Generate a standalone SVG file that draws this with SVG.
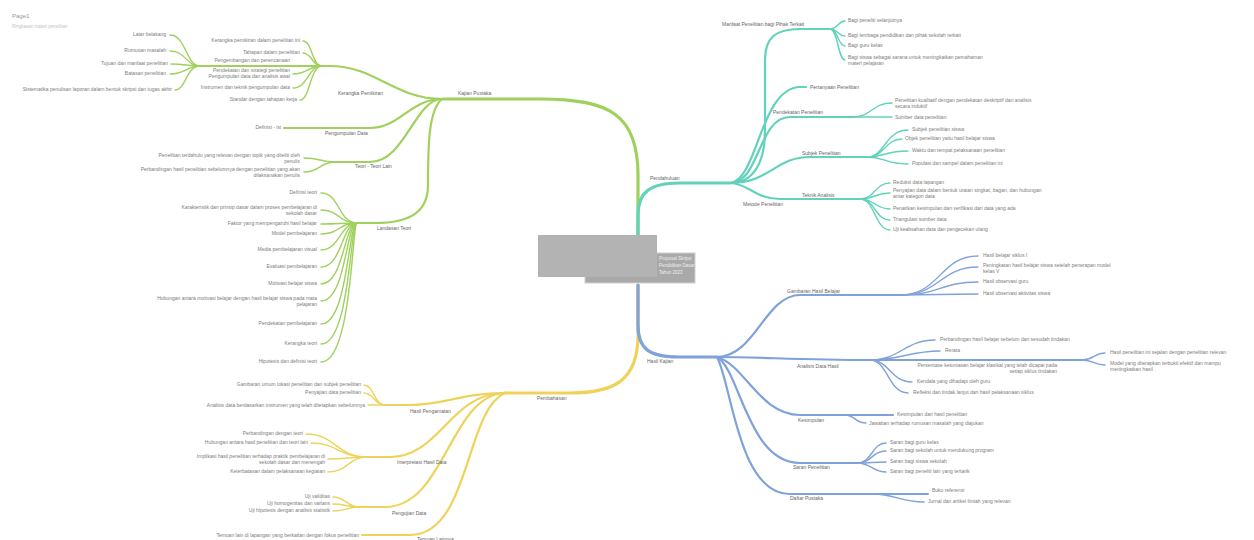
<svg xmlns="http://www.w3.org/2000/svg" width="1254" height="540" viewBox="0 0 1254 540">
<style>
text{font-family:"Liberation Sans",Arial,sans-serif;font-size:5px;fill:#7c7c7c}
.e{text-anchor:end}
.l{fill:#666}
path{fill:none;stroke-linecap:round;stroke-linejoin:round}
.g{stroke:#9fd15c}.y{stroke:#eed35a}.t{stroke:#62d2bb}.b{stroke:#7fa2d8}
.m{stroke-width:3.2}.s{stroke-width:2.2}.f{stroke-width:1.4}
</style>
<rect width="1254" height="540" fill="#ffffff"/>
<text x="12" y="18" style="font-size:6px;fill:#999">Page1</text>
<text x="12" y="28" style="font-size:4.5px;fill:#c4c4c4">Ringkasan materi penelitian</text>

<g id="connectors">
<!-- green -->
<path class="g m" d="M 638 236 L 638 175 C 638 115, 610 99, 540 99 L 442 99"/>
<path class="g s" d="M 442 99 C 395 99, 375 66, 330 66 L 200 66"/>
<path class="g f" d="M 322 66 C 312 66, 312 41, 303 41"/>
<path class="g f" d="M 322 66 C 312 66, 312 53, 303 53"/>
<path class="g f" d="M 322 66 C 308 66, 308 74, 293 74"/>
<path class="g f" d="M 322 66 C 308 66, 308 88, 293 88"/>
<path class="g f" d="M 322 66 C 310 66, 310 100, 300 100"/>
<path class="g f" d="M 200 66 C 186 66, 186 35, 170 35"/>
<path class="g f" d="M 200 66 C 186 66, 186 51, 170 51"/>
<path class="g f" d="M 200 66 C 186 66, 186 64, 171 64"/>
<path class="g f" d="M 200 66 C 186 66, 186 74, 170 74"/>
<path class="g f" d="M 200 66 C 186 66, 186 90, 175 90"/>
<path class="g s" d="M 442 99 C 410 99, 400 128, 370 128 L 284 128"/>
<path class="g s" d="M 442 99 C 415 99, 405 162, 370 162 L 335 162"/>
<path class="g f" d="M 335 162 C 320 162, 320 158, 304 158"/>
<path class="g f" d="M 335 162 C 320 162, 320 172, 304 172"/>
<path class="g s" d="M 442 99 C 428 110, 428 150, 428 185 C 428 212, 410 223, 375 223 L 357 223"/>
<path class="g f" d="M 357 223 C 338 223, 340 193, 321 193"/>
<path class="g f" d="M 357 223 C 338 223, 340 210, 321 210"/>
<path class="g f" d="M 357 223 C 338 223, 340 224, 321 224"/>
<path class="g f" d="M 357 223 C 338 223, 340 234, 321 234"/>
<path class="g f" d="M 357 223 C 340 223, 340 250, 321 250"/>
<path class="g f" d="M 357 223 C 342 223, 342 267, 321 267"/>
<path class="g f" d="M 357 223 C 344 223, 344 284, 321 284"/>
<path class="g f" d="M 357 223 C 346 223, 346 301, 321 301"/>
<path class="g f" d="M 357 223 C 348 223, 348 324, 321 324"/>
<path class="g f" d="M 357 223 C 350 223, 350 344, 321 344"/>
<path class="g f" d="M 357 223 C 352 223, 352 362, 321 362"/>
<!-- yellow -->
<path class="y m" d="M 638 285 L 638 335 C 638 380, 615 393, 570 393 L 505 393"/>
<path class="y s" d="M 505 393 C 460 393, 445 405, 410 405 L 385 405"/>
<path class="y f" d="M 385 405 C 374 405, 374 385, 364 385"/>
<path class="y f" d="M 385 405 C 374 405, 374 393, 364 393"/>
<path class="y f" d="M 385 405 L 368 405"/>
<path class="y s" d="M 505 393 C 450 393, 440 457, 390 457 L 367 457"/>
<path class="y f" d="M 367 457 C 336 457, 336 434, 306 434"/>
<path class="y f" d="M 367 457 C 338 457, 338 443, 311 443"/>
<path class="y f" d="M 367 457 C 348 457, 348 459, 328 459"/>
<path class="y f" d="M 367 457 C 348 457, 348 472, 328 472"/>
<path class="y s" d="M 505 393 C 450 395, 445 507, 385 507 L 360 507"/>
<path class="y f" d="M 360 507 C 346 507, 346 497, 333 497"/>
<path class="y f" d="M 360 507 C 346 507, 346 504, 333 504"/>
<path class="y f" d="M 360 507 C 346 507, 346 511, 333 511"/>
<path class="y s" d="M 505 393 C 465 410, 470 535, 410 535 L 362 535"/>
<!-- teal -->
<path class="t m" d="M 638 236 L 638 215 C 638 192, 650 183, 680 183 L 730 183"/>
<path class="t s" d="M 730 183 C 752 183, 765 165, 765 130 L 765 60 C 765 38, 775 29, 800 29 L 830 29"/>
<path class="t f" d="M 830 29 C 838 29, 838 21, 845 21"/>
<path class="t f" d="M 830 29 C 838 29, 838 36, 845 36"/>
<path class="t f" d="M 830 29 C 838 29, 838 46, 845 46"/>
<path class="t f" d="M 830 29 C 838 29, 838 60, 845 60"/>
<path class="t s" d="M 730 183 C 758 180, 760 88, 800 87 L 806 87"/>
<path class="t s" d="M 730 183 C 760 183, 758 117, 790 117 L 852 117"/>
<path class="t f" d="M 852 117 C 872 117, 872 103, 892 103"/>
<path class="t f" d="M 852 117 L 892 117"/>
<path class="t s" d="M 730 183 C 770 183, 775 157, 810 157 L 867 157"/>
<path class="t f" d="M 867 157 C 885 157, 885 130, 908 130"/>
<path class="t f" d="M 867 157 C 885 157, 885 139, 902 139"/>
<path class="t f" d="M 867 157 C 885 157, 885 151, 908 151"/>
<path class="t f" d="M 867 157 C 885 157, 885 164, 908 164"/>
<path class="t s" d="M 730 183 C 750 184, 755 199, 780 199 L 860 199"/>
<path class="t f" d="M 860 199 C 875 199, 875 183, 890 183"/>
<path class="t f" d="M 860 199 C 875 199, 875 193, 890 193"/>
<path class="t f" d="M 860 199 C 875 199, 875 209, 890 209"/>
<path class="t f" d="M 860 199 C 875 199, 875 220, 890 220"/>
<path class="t f" d="M 860 199 C 875 199, 875 230, 890 230"/>
<!-- blue -->
<path class="b m" d="M 638 285 L 638 325 C 638 350, 650 357, 680 357 L 717 357"/>
<path class="b s" d="M 717 357 C 755 357, 765 295, 800 295 L 900 295"/>
<path class="b f" d="M 900 295 C 940 295, 940 256, 978 256"/>
<path class="b f" d="M 900 295 C 940 295, 940 267, 978 267"/>
<path class="b f" d="M 900 295 C 940 295, 940 282, 978 282"/>
<path class="b f" d="M 900 295 L 978 294"/>
<path class="b s" d="M 717 357 C 760 357, 800 360, 870 360 L 1082 360"/>
<path class="b f" d="M 870 360 C 900 360, 905 340, 935 340"/>
<path class="b f" d="M 870 360 C 900 360, 910 351, 940 351"/>
<path class="b f" d="M 870 360 C 890 360, 890 382, 912 382"/>
<path class="b f" d="M 870 360 C 888 360, 888 393, 908 393"/>
<path class="b f" d="M 1082 360 C 1094 360, 1094 353, 1105 353"/>
<path class="b f" d="M 1082 360 C 1094 360, 1094 365, 1105 365"/>
<path class="b s" d="M 717 357 C 745 365, 760 415, 800 415 L 893 415"/>
<path class="b f" d="M 845 415 C 855 415, 855 423, 866 423"/>
<path class="b s" d="M 717 357 C 740 370, 748 463, 800 463 L 857 463"/>
<path class="b f" d="M 857 463 C 872 463, 872 443, 886 443"/>
<path class="b f" d="M 857 463 C 872 463, 872 451, 886 451"/>
<path class="b f" d="M 857 463 C 872 463, 872 462, 886 462"/>
<path class="b f" d="M 857 463 C 872 463, 872 472, 886 472"/>
<path class="b s" d="M 717 357 C 732 385, 738 494, 790 494 L 928 494"/>
<path class="b f" d="M 873 494 C 895 494, 900 502, 924 502"/>
</g>

<g id="center">
<rect x="585" y="253" width="110" height="30" fill="#a9a9a9" stroke="#d0d0d0" stroke-width="1"/>
<rect x="538" y="235" width="119" height="42" fill="#b3b3b3"/>
<text x="659" y="260" style="fill:#eeeeee;font-size:4.5px">Proposal Skripsi</text>
<text x="659" y="267" style="fill:#eeeeee;font-size:4.5px">Pendidikan Dasar</text>
<text x="659" y="274" style="fill:#eeeeee;font-size:4.5px">Tahun 2023</text>
</g>

<g id="green">
<text class="l" x="458" y="95">Kajian Pustaka</text>
<g id="g-kerangka"><text class="l" x="338" y="95">Kerangka Pemikiran</text>
<text class="e" x="300" y="42">Kerangka pemikiran dalam penelitian ini</text>
<text class="e" x="300" y="54">Tahapan dalam penelitian</text>
<text class="e" x="290" y="62">Pengembangan dan perencanaan</text>
<text class="e" x="290" y="72">Pendekatan dan strategi penelitian</text>
<text class="e" x="290" y="78">Pengumpulan data dan analisis awal</text>
<text class="e" x="290" y="89">Instrumen dan teknik pengumpulan data</text>
<text class="e" x="297" y="101">Standar dengan tahapan kerja</text>
<text class="e" x="166" y="36">Latar belakang</text>
<text class="e" x="166" y="52">Rumusan masalah</text>
<text class="e" x="168" y="65">Tujuan dan manfaat penelitian</text>
<text class="e" x="166" y="75">Batasan penelitian</text>
<text class="e" x="172" y="91">Sistematika penulisan laporan dalam bentuk skripsi dan tugas akhir</text></g>
<g id="g-pengumpulan"><text class="l" x="325" y="135">Pengumpulan Data</text>
<text class="e" x="281" y="129">Definisi - isi</text></g>
<g id="g-teori"><text class="l" x="355" y="168">Teori - Teori Lain</text>
<text class="e" x="300" y="157">Penelitian terdahulu yang relevan dengan topik yang diteliti oleh</text>
<text class="e" x="300" y="163">penulis</text>
<text class="e" x="300" y="171">Perbandingan hasil penelitian sebelumnya dengan penelitian yang akan</text>
<text class="e" x="300" y="177">dilaksanakan penulis</text></g>
<g id="g-landasan"><text class="l" x="377" y="230">Landasan Teori</text>
<text class="e" x="317" y="194">Definisi teori</text>
<text class="e" x="317" y="209">Karakteristik dan prinsip dasar dalam proses pembelajaran di</text>
<text class="e" x="317" y="215">sekolah dasar</text>
<text class="e" x="317" y="225">Faktor yang mempengaruhi hasil belajar</text>
<text class="e" x="317" y="235">Model pembelajaran</text>
<text class="e" x="317" y="251">Media pembelajaran visual</text>
<text class="e" x="317" y="268">Evaluasi pembelajaran</text>
<text class="e" x="317" y="285">Motivasi belajar siswa</text>
<text class="e" x="317" y="300">Hubungan antara motivasi belajar dengan hasil belajar siswa pada mata</text>
<text class="e" x="317" y="306">pelajaran</text>
<text class="e" x="317" y="325">Pendekatan pembelajaran</text>
<text class="e" x="317" y="345">Kerangka teori</text>
<text class="e" x="317" y="363">Hipotesis dan definisi teori</text></g>
</g>

<g id="yellow">
<text class="l" x="537" y="400">Pembahasan</text>
<g id="y-a"><text class="l" x="410" y="413">Hasil Pengamatan</text>
<text class="e" x="361" y="386">Gambaran umum lokasi penelitian dan subjek penelitian</text>
<text class="e" x="361" y="394">Penyajian data penelitian</text>
<text class="e" x="365" y="407">Analisis data berdasarkan instrumen yang telah ditetapkan sebelumnya</text></g>
<g id="y-b"><text class="l" x="397" y="464">Interpretasi Hasil Data</text>
<text class="e" x="303" y="435">Perbandingan dengan teori</text>
<text class="e" x="308" y="444">Hubungan antara hasil penelitian dan teori lain</text>
<text class="e" x="325" y="458">Implikasi hasil penelitian terhadap praktik pembelajaran di</text>
<text class="e" x="325" y="464">sekolah dasar dan menengah</text>
<text class="e" x="325" y="473">Keterbatasan dalam pelaksanaan kegiatan</text></g>
<g id="y-c"><text class="l" x="392" y="515">Pengujian Data</text>
<text class="e" x="330" y="498">Uji validitas</text>
<text class="e" x="330" y="505">Uji homogenitas dan varians</text>
<text class="e" x="330" y="512">Uji hipotesis dengan analisis statistik</text></g>
<g id="y-d"><text class="l" x="417" y="541">Temuan Lainnya</text>
<text class="e" x="359" y="537">Temuan lain di lapangan yang berkaitan dengan fokus penelitian</text></g>
</g>

<g id="teal">
<text class="l" x="650" y="180">Pendahuluan</text>
<g id="t-a"><text class="l" x="722" y="26">Manfaat Penelitian bagi Pihak Terkait</text>
<text x="848" y="22">Bagi peneliti selanjutnya</text>
<text x="848" y="37">Bagi lembaga pendidikan dan pihak sekolah terkait</text>
<text x="848" y="47">Bagi guru kelas</text>
<text x="848" y="59">Bagi siswa sebagai sarana untuk meningkatkan pemahaman</text>
<text x="848" y="65">materi pelajaran</text></g>
<g id="t-b"><text class="l" x="810" y="89">Pertanyaan Penelitian</text></g>
<g id="t-c"><text class="l" x="773" y="114">Pendekatan Penelitian</text>
<text x="895" y="102">Penelitian kualitatif dengan pendekatan deskriptif dan analisis</text>
<text x="895" y="108">secara induktif</text>
<text x="895" y="119">Sumber data penelitian</text></g>
<g id="t-d"><text class="l" x="802" y="155">Subjek Penelitian</text>
<text x="912" y="131">Subjek penelitian siswa</text>
<text x="905" y="140">Objek penelitian yaitu hasil belajar siswa</text>
<text x="912" y="152">Waktu dan tempat pelaksanaan penelitian</text>
<text x="912" y="165">Populasi dan sampel dalam penelitian ini</text></g>
<g id="t-e"><text class="l" x="743" y="206">Metode Penelitian</text>
<text class="l" x="802" y="197">Teknik Analisis</text>
<text x="893" y="184">Reduksi data lapangan</text>
<text x="893" y="192">Penyajian data dalam bentuk uraian singkat, bagan, dan hubungan</text>
<text x="893" y="198">antar kategori data</text>
<text x="893" y="210">Penarikan kesimpulan dan verifikasi dari data yang ada</text>
<text x="893" y="221">Triangulasi sumber data</text>
<text x="893" y="231">Uji keabsahan data dan pengecekan ulang</text></g>
</g>

<g id="blue">
<text class="l" x="647" y="363">Hasil Kajian</text>
<g id="b-a"><text class="l" x="787" y="293">Gambaran Hasil Belajar</text>
<text x="983" y="257">Hasil belajar siklus I</text>
<text x="983" y="267">Peningkatan hasil belajar siswa setelah penerapan model</text>
<text x="983" y="273">kelas V</text>
<text x="983" y="283">Hasil observasi guru</text>
<text x="983" y="295">Hasil observasi aktivitas siswa</text></g>
<g id="b-b"><text class="l" x="797" y="368">Analisis Data Hasil</text>
<text x="940" y="341">Perbandingan hasil belajar sebelum dan sesudah tindakan</text>
<text x="945" y="352">Rerata</text>
<text class="e" x="1057" y="367">Persentase ketuntasan belajar klasikal yang telah dicapai pada</text>
<text class="e" x="1057" y="373">setiap siklus tindakan</text>
<text x="1110" y="354">Hasil penelitian ini sejalan dengan penelitian relevan</text>
<text x="1110" y="365">Model yang diterapkan terbukti efektif dan mampu</text>
<text x="1110" y="371">meningkatkan hasil</text>
<text x="917" y="383">Kendala yang dihadapi oleh guru</text>
<text x="913" y="394">Refleksi dan tindak lanjut dari hasil pelaksanaan siklus</text></g>
<g id="b-c"><text class="l" x="798" y="422">Kesimpulan</text>
<text x="897" y="416">Kesimpulan dari hasil penelitian</text>
<text x="869" y="425">Jawaban terhadap rumusan masalah yang diajukan</text></g>
<g id="b-d"><text class="l" x="793" y="469">Saran Penelitian</text>
<text x="890" y="444">Saran bagi guru kelas</text>
<text x="890" y="452">Saran bagi sekolah untuk mendukung program</text>
<text x="890" y="463">Saran bagi siswa sekolah</text>
<text x="890" y="473">Saran bagi peneliti lain yang tertarik</text></g>
<g id="b-e"><text class="l" x="790" y="500">Daftar Pustaka</text>
<text x="932" y="492">Buku referensi</text>
<text x="928" y="503">Jurnal dan artikel ilmiah yang relevan</text></g>
</g>
</svg>
